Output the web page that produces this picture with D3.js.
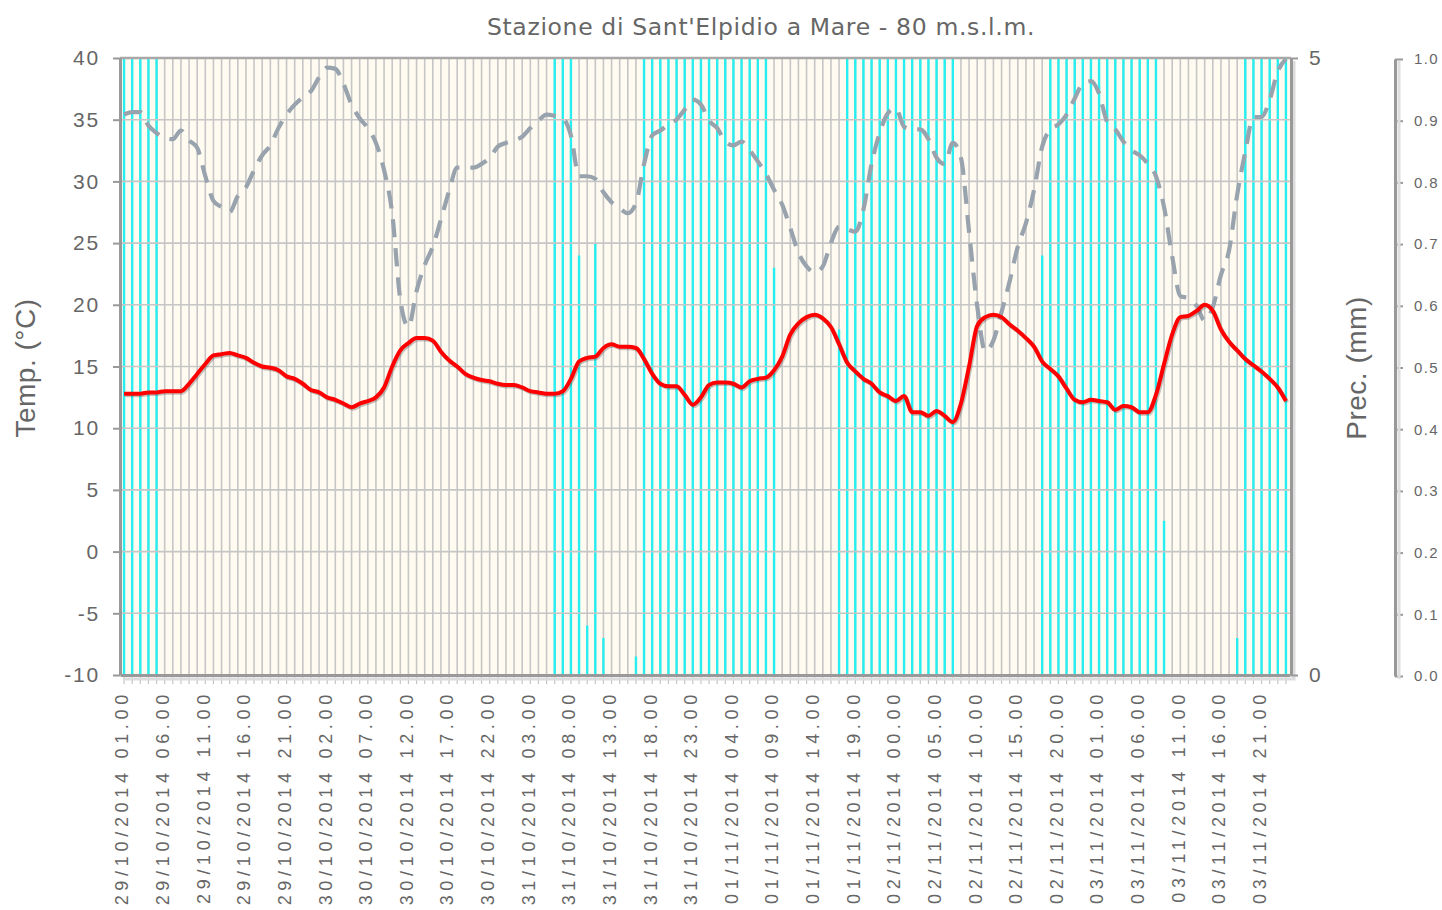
<!DOCTYPE html>
<html>
<head>
<meta charset="utf-8">
<script src="https://cdn.jsdelivr.net/npm/d3@7"></script>
<style>
  body { margin: 0; background: #fff; }
  svg { display: block; }
  text { font-family: "Liberation Sans", Arial, sans-serif; fill: #666; }
</style>
</head>
<body>
<svg id="chart" width="1442" height="910"></svg>
<script>
// hourly readings, 29/10/2014 01.00 onwards
const tempC = [
  12.8, 12.8, 12.8, 12.9, 12.9, 13.0, 13.0, 13.0, 13.6, 14.4,
  15.2, 15.9, 16.0, 16.1, 15.9, 15.7, 15.3, 15.0, 14.9, 14.7,
  14.2, 14.0, 13.6, 13.1, 12.9, 12.5, 12.3, 12.0, 11.7, 12.0,
  12.2, 12.5, 13.3, 15.0, 16.3, 16.9, 17.3, 17.3, 17.1, 16.2,
  15.5, 15.0, 14.4, 14.1, 13.9, 13.8, 13.6, 13.5, 13.5, 13.3,
  13.0, 12.9, 12.8, 12.8, 13.0, 14.0, 15.4, 15.7, 15.8, 16.5,
  16.8, 16.6, 16.6, 16.5, 15.6, 14.4, 13.6, 13.4, 13.4, 12.7,
  11.9, 12.5, 13.5, 13.7, 13.7, 13.6, 13.3, 13.8, 14.0, 14.1,
  14.7, 15.8, 17.6, 18.5, 19.0, 19.2, 18.9, 18.2, 16.8, 15.3,
  14.6, 14.0, 13.6, 12.9, 12.6, 12.2, 12.6, 11.3, 11.3, 11.0,
  11.4, 11.0, 10.5, 12.0, 15.0, 18.3, 19.0, 19.2, 19.0, 18.4,
  17.9, 17.3, 16.6, 15.4, 14.8, 14.2, 13.2, 12.3, 12.1, 12.3,
  12.2, 12.1, 11.5, 11.8, 11.7, 11.3, 11.3, 12.7, 15.2, 17.6,
  19.0, 19.1, 19.5, 20.0, 19.5, 18.0, 17.0, 16.3, 15.6, 15.1,
  14.6, 14.0, 13.3, 12.2
];

// relative humidity, %
const humidity = [
  91, 91.4, 91.4, 89.2, 88, 87.2, 87, 88.4, 86.8, 85.6,
  81, 77, 76, 75.2, 77.8, 79.2, 82, 84.4, 86, 88.8,
  91, 92.6, 93.8, 94.8, 97, 98.6, 98.4, 96, 92.6, 90.4,
  88.8, 86.4, 82, 75, 61, 56.6, 62.4, 66.6, 69.6, 74,
  78.6, 82.4, 82.4, 82.4, 83, 84, 85.8, 86.4, 86.8, 87.4,
  88.8, 90, 91, 90.8, 90.4, 87.6, 81, 81, 80.6, 78.4,
  76.8, 75.8, 75, 76.6, 83, 87.6, 88.4, 89.4, 90.2, 91.8,
  93.4, 92.6, 90, 88.8, 86.6, 86, 86.6, 85.2, 83.4, 81.4,
  78.8, 76.4, 72.6, 68.6, 66.4, 65.4, 66.4, 70.2, 72.8, 72.4,
  72, 75.6, 83, 88, 91.2, 92, 89, 88.6, 88.6, 87,
  84, 83, 86.4, 84, 72, 60, 52.6, 54.4, 59, 64,
  69.6, 73.4, 78.8, 85.8, 88.6, 89.4, 91, 93.6, 96, 96.4,
  94.4, 89.8, 88.6, 86.6, 85.2, 84.4, 83, 81, 76, 68,
  61.6, 61.2, 60, 57.6, 59.8, 65, 69, 78, 85, 90.6,
  90.6, 93.4, 98, 100
];

// precipitation, mm
const rainMm = [
  5, 5, 5, 5, 5, 0, 0, 0, 0, 0, 0, 0,
  0, 0, 0, 0, 0, 0, 0, 0, 0, 0, 0, 0,
  0, 0, 0, 0, 0, 0, 0, 0, 0, 0, 0, 0,
  0, 0, 0, 0, 0, 0, 0, 0, 0, 0, 0, 0,
  0, 0, 0, 0, 0, 5, 5, 5, 3.4, 0.4, 3.5, 0.3,
  0, 0, 0, 0.15, 5, 5, 5, 5, 5, 5, 5, 5,
  5, 5, 5, 5, 5, 5, 5, 5, 3.3, 0, 0, 0,
  0, 0, 0, 0, 2.8, 5, 5, 5, 5, 5, 5, 5,
  5, 5, 5, 5, 5, 5, 5, 0, 0, 0, 0, 0,
  0, 0, 0, 0, 0, 3.4, 5, 5, 5, 5, 5, 5,
  5, 5, 5, 5, 5, 5, 5, 5, 1.25, 0, 0, 0,
  0, 0, 0, 0, 0, 0.3, 5, 5, 5, 5, 5, 5
];

// one label every 5 hours
const tickLabels = [
  "29/10/2014 01.00", "29/10/2014 06.00", "29/10/2014 11.00", "29/10/2014 16.00",
  "29/10/2014 21.00", "30/10/2014 02.00", "30/10/2014 07.00", "30/10/2014 12.00",
  "30/10/2014 17.00", "30/10/2014 22.00", "31/10/2014 03.00", "31/10/2014 08.00",
  "31/10/2014 13.00", "31/10/2014 18.00", "31/10/2014 23.00", "01/11/2014 04.00",
  "01/11/2014 09.00", "01/11/2014 14.00", "01/11/2014 19.00", "02/11/2014 00.00",
  "02/11/2014 05.00", "02/11/2014 10.00", "02/11/2014 15.00", "02/11/2014 20.00",
  "03/11/2014 01.00", "03/11/2014 06.00", "03/11/2014 11.00", "03/11/2014 16.00",
  "03/11/2014 21.00"
];
const labelStep = 5;

const plot = { left: 120, right: 1290, top: 58, bottom: 675 };

const svg = d3.select("#chart");
const hours = d3.range(tempC.length);

const x = d3.scaleBand().domain(hours).range([plot.left, plot.right]);
const cx = i => x(i) + x.bandwidth() / 2;
const yTemp = d3.scaleLinear().domain([-10, 40]).range([plot.bottom, plot.top]);
const yRain = d3.scaleLinear().domain([0, 5]).range([plot.bottom, plot.top]);
const yHum = d3.scaleLinear().domain([0, 1]).range([plot.bottom + 1, plot.top + 1]);

// title
svg.append("text")
  .attr("x", 761).attr("y", 35)
  .attr("text-anchor", "middle")
  .style("font-family", "'DejaVu Sans', Verdana, sans-serif")
  .style("font-size", "23.5px")
  .style("letter-spacing", "0.65px")
  .text("Stazione di Sant'Elpidio a Mare - 80 m.s.l.m.");

// plot background
svg.append("rect")
  .attr("x", plot.left).attr("y", plot.top)
  .attr("width", plot.right - plot.left).attr("height", plot.bottom - plot.top)
  .attr("fill", "#fffbf1");

// hourly vertical grid
svg.append("g")
  .selectAll("line")
  .data(hours)
  .join("line")
  .attr("x1", cx).attr("x2", cx)
  .attr("y1", plot.top).attr("y2", plot.bottom)
  .attr("stroke", "#c6c6c6")
  .attr("stroke-width", 1.6);

// precipitation bars
svg.append("g")
  .selectAll("rect")
  .data(hours.filter(i => rainMm[i] > 0))
  .join("rect")
  .attr("x", i => cx(i) - 1.2)
  .attr("width", 2.4)
  .attr("y", i => yRain(rainMm[i]))
  .attr("height", i => yRain(0) - yRain(rainMm[i]))
  .attr("fill", "#27eef0");

// horizontal grid
svg.append("g")
  .selectAll("line")
  .data(d3.range(-5, 40, 5))
  .join("line")
  .attr("x1", plot.left).attr("x2", plot.right)
  .attr("y1", yTemp).attr("y2", yTemp)
  .attr("stroke", "#c6c6c6")
  .attr("stroke-width", 1.6);

// humidity, dashed
const humLine = d3.line()
  .x((d, i) => cx(i))
  .y(d => yHum(d / 100))
  .curve(d3.curveMonotoneX);

svg.append("path")
  .datum(humidity)
  .attr("d", humLine)
  .attr("fill", "none")
  .attr("stroke", "#98a3ae")
  .attr("stroke-width", 4.2)
  .attr("stroke-dasharray", "18,11");

// temperature, red with a soft shadow
const tempLine = d3.line()
  .x((d, i) => cx(i))
  .y(d => yTemp(d))
  .curve(d3.curveMonotoneX);

svg.append("path")
  .datum(tempC)
  .attr("d", tempLine)
  .attr("transform", "translate(1.2,1.5)")
  .attr("fill", "none")
  .attr("stroke", "#555")
  .attr("stroke-opacity", 0.35)
  .attr("stroke-width", 4);

svg.append("path")
  .datum(tempC)
  .attr("d", tempLine)
  .attr("fill", "none")
  .attr("stroke", "#ff0000")
  .attr("stroke-width", 4)
  .attr("stroke-linejoin", "round");

// top border
svg.append("line")
  .attr("x1", plot.left).attr("x2", plot.right + 1)
  .attr("y1", plot.top).attr("y2", plot.top)
  .attr("stroke", "#a8a8a8").attr("stroke-width", 2.5);

// minor hour ticks under the x axis
svg.append("g")
  .selectAll("line")
  .data(hours)
  .join("line")
  .attr("x1", cx).attr("x2", cx)
  .attr("y1", plot.bottom + 2).attr("y2", plot.bottom + 9)
  .attr("stroke", "#c4c4c4")
  .attr("stroke-width", 1.2);

// right and bottom shadow
svg.append("path")
  .attr("d", `M${plot.right + 4},${plot.top + 3}V${plot.bottom + 4}H${plot.left + 3}`)
  .attr("fill", "none")
  .attr("stroke", "#dcdcdc")
  .attr("stroke-width", 3);

function styleAxis(g) {
  g.select(".domain").attr("stroke", "#999").attr("stroke-width", 3);
  g.selectAll(".tick line").attr("stroke", "#999").attr("stroke-width", 2);
  g.selectAll(".tick text").attr("fill", "#666");
}

// x axis
const xAxis = svg.append("g")
  .attr("transform", `translate(0,${plot.bottom})`)
  .call(d3.axisBottom(x)
    .tickValues(hours.filter(i => i % labelStep === 0))
    .tickFormat(i => tickLabels[i / labelStep])
    .tickSize(0)
    .tickSizeOuter(0));
styleAxis(xAxis);
xAxis.selectAll(".tick text")
  .attr("transform", "rotate(-90)")
  .attr("text-anchor", "end")
  .attr("x", -15)
  .attr("y", -2)
  .attr("dy", "0.35em")
  .style("font-size", "18px")
  .style("letter-spacing", "4.7px");

// left temperature axis
const yAxisL = svg.append("g")
  .attr("transform", `translate(${plot.left},0)`)
  .call(d3.axisLeft(yTemp)
    .tickValues(d3.range(-10, 41, 5))
    .tickFormat(d => String(d))
    .tickSize(7)
    .tickSizeOuter(0)
    .tickPadding(13));
styleAxis(yAxisL);
yAxisL.selectAll(".tick text")
  .style("font-size", "21px")
  .style("letter-spacing", "1.8px");

// right precipitation axis
const yAxisR = svg.append("g")
  .attr("transform", `translate(${plot.right + 1},0)`)
  .call(d3.axisRight(yRain)
    .tickValues([0, 5])
    .tickFormat(d => String(d))
    .tickSize(7)
    .tickSizeOuter(0)
    .tickPadding(11));
styleAxis(yAxisR);
yAxisR.selectAll(".tick text")
  .style("font-size", "21px");

// far right 0-1 axis
const yAxisH = svg.append("g")
  .attr("transform", "translate(1395,0)")
  .call(d3.axisRight(yHum)
    .tickValues(d3.range(0, 1.01, 0.1))
    .tickFormat(d3.format(".1f"))
    .tickSize(8)
    .tickSizeOuter(0)
    .tickPadding(11));
styleAxis(yAxisH);
yAxisH.selectAll(".tick text")
  .style("font-size", "15px")
  .style("letter-spacing", "1.4px");
svg.append("line")
  .attr("x1", 1399).attr("x2", 1399)
  .attr("y1", yHum(1) + 2).attr("y2", yHum(0) + 3)
  .attr("stroke", "#dedede").attr("stroke-width", 3);

// axis titles
svg.append("text")
  .attr("transform", "translate(35,368) rotate(-90)")
  .attr("text-anchor", "middle")
  .style("font-size", "28px")
  .style("letter-spacing", "0.5px")
  .text("Temp. (°C)");

svg.append("text")
  .attr("transform", "translate(1366,368) rotate(-90)")
  .attr("text-anchor", "middle")
  .style("font-size", "28px")
  .style("letter-spacing", "0.5px")
  .text("Prec. (mm)");
</script>
</body>
</html>
